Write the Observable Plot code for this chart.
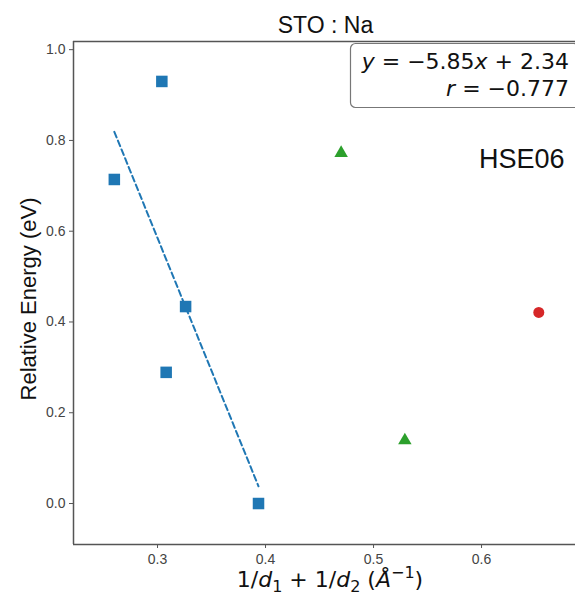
<!DOCTYPE html>
<html><head><meta charset="utf-8">
<script src="https://cdn.jsdelivr.net/npm/d3@7"></script>
<script src="https://cdn.jsdelivr.net/npm/@observablehq/plot@0.6"></script>
<style>body{margin:0;background:#fff;overflow:hidden}</style>
</head><body><div id="chart"></div>
<script>
const blueX = [0.304, 0.260, 0.326, 0.308, 0.3935];
const blueY = [0.93, 0.714, 0.434, 0.289, 0.0];
const greenX = [0.470, 0.529];
const greenY = [0.772, 0.139];
const redX = [0.653];
const redY = [0.421];
const fitSlope = -5.85;
const fitIntercept = 2.34;
const fitR = -0.777;
const xTicks = [0.3, 0.4, 0.5, 0.6];
const yTicks = [0.0, 0.2, 0.4, 0.6, 0.8, 1.0];
const title = "STO : Na";
const methodLabel = "HSE06";
const yLabel = "Relative Energy (eV)";

const blue = blueX.map((x, i) => ({x, y: blueY[i]}));
const green = greenX.map((x, i) => ({x, y: greenY[i]}));
const red = redX.map((x, i) => ({x, y: redY[i]}));
const fitXs = [d3.min(blueX), d3.max(blueX)];
const fit = fitXs.map(x => ({x, y: fitSlope * x + fitIntercept}));

const xDom = [0.2222, 0.687], yDom = [-0.0903, 1.018];
const spine = "#555";
const chart = Plot.plot({
  width: 575, height: 600,
  marginLeft: 73, marginRight: 0, marginTop: 41, marginBottom: 56,
  style: {fontFamily: "'Liberation Sans', Arial, sans-serif", background: "#fff"},
  x: {domain: xDom, ticks: xTicks, tickFormat: d3.format(".1f"), label: null},
  y: {domain: yDom, ticks: yTicks, tickFormat: d3.format(".1f"), label: null},
  marks: [
    Plot.axisX({ticks: xTicks, tickFormat: d3.format(".1f"), tickSize: 4, stroke: spine, fontSize: 14, fill: "#444", tickPadding: 6, label: null}),
    Plot.axisY({ticks: yTicks, tickFormat: d3.format(".1f"), tickSize: 4, stroke: spine, fontSize: 14, fill: "#444", tickPadding: 4, label: null}),
    Plot.ruleX([xDom[0]], {stroke: spine, strokeWidth: 1.5}),
    Plot.ruleY([yDom[0], yDom[1]], {stroke: spine, strokeWidth: 1.5}),
    Plot.line(fit, {x: "x", y: "y", stroke: "#1f77b4", strokeWidth: 2, strokeDasharray: "6,3.5"}),
    Plot.dot(blue, {x: "x", y: "y", symbol: "square", r: 6.5, fill: "#1f77b4"}),
    Plot.dot(green, {x: "x", y: "y", symbol: "triangle", r: 5, fill: "#2ca02c"}),
    Plot.dot(red, {x: "x", y: "y", symbol: "circle", r: 5.5, fill: "#d62728"}),
    Plot.text([title], {text: d => d, frameAnchor: "top", dx: 1, dy: -25, fontSize: 23, fill: "#111"}),
    Plot.text([methodLabel], {text: d => d, frameAnchor: "top-right", dx: -11, dy: 107, textAnchor: "end", fontSize: 27, fill: "#111"}),
    Plot.text([yLabel], {text: d => d, frameAnchor: "left", dx: -45, dy: 6, rotate: -90, textAnchor: "middle", fontSize: 22, fill: "#111"})
  ]
});
document.getElementById("chart").appendChild(chart);

const svg = d3.select(chart);
// box with the fit equation
const g = svg.append("g");
g.append("rect").attr("x", 350.5).attr("y", 43.5).attr("width", 228).attr("height", 64)
  .attr("rx", 5).attr("fill", "#fff").attr("stroke", "#777").attr("stroke-width", 1.2);
const t1 = g.append("text").attr("x", 569).attr("y", 69).attr("text-anchor", "end")
  .attr("font-family", "'DejaVu Sans', sans-serif").attr("font-size", 22).attr("fill", "#111");
t1.append("tspan").attr("font-style", "italic").text("y");
t1.append("tspan").text(" = \u2212" + Math.abs(fitSlope).toFixed(2));
t1.append("tspan").attr("font-style", "italic").text("x");
t1.append("tspan").text(" + " + fitIntercept.toFixed(2));
const t2 = g.append("text").attr("x", 569).attr("y", 96).attr("text-anchor", "end")
  .attr("font-family", "'DejaVu Sans', sans-serif").attr("font-size", 22).attr("fill", "#111");
t2.append("tspan").attr("font-style", "italic").text("r");
t2.append("tspan").text(" = \u2212" + Math.abs(fitR).toFixed(3));
// x-axis label with math styling
const xl = svg.append("text").attr("x", 330).attr("y", 587).attr("text-anchor", "middle")
  .attr("font-family", "'DejaVu Sans', sans-serif").attr("font-size", 22).attr("fill", "#111");
xl.append("tspan").text("1/");
xl.append("tspan").attr("font-style", "italic").text("d");
xl.append("tspan").attr("font-size", 16).attr("dy", 5).text("1");
xl.append("tspan").attr("dy", -5).text(" + 1/");
xl.append("tspan").attr("font-style", "italic").text("d");
xl.append("tspan").attr("font-size", 16).attr("dy", 5).text("2");
xl.append("tspan").attr("dy", -5).text(" (");
xl.append("tspan").attr("font-style", "italic").text("\u00C5");
xl.append("tspan").attr("font-size", 16).attr("dy", -9).text("\u22121");
xl.append("tspan").attr("dy", 9).text(")");
</script></body></html>
